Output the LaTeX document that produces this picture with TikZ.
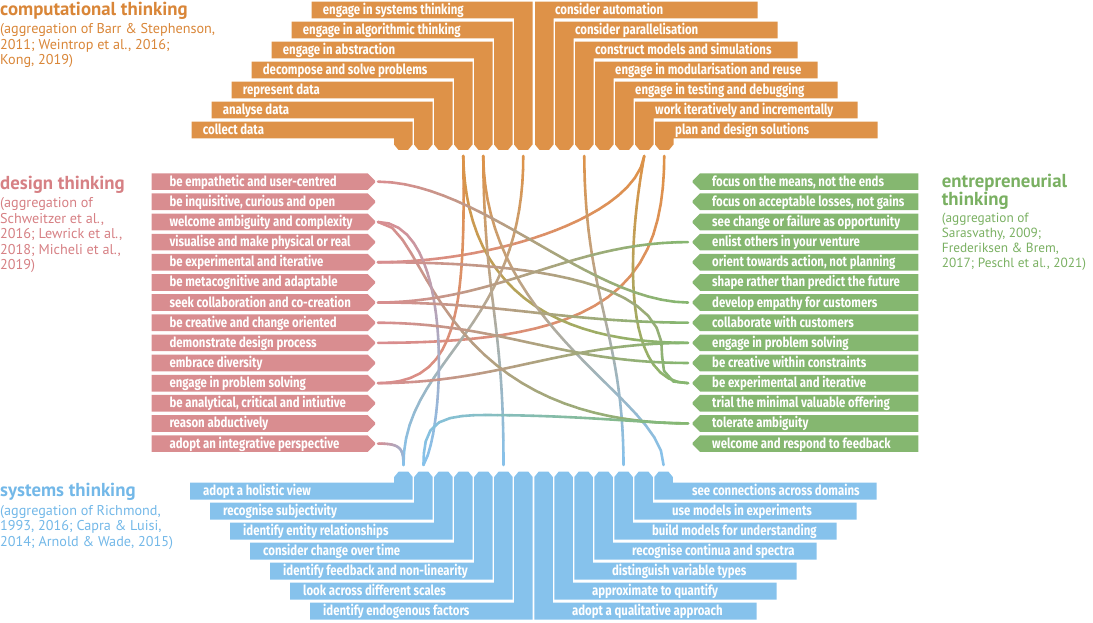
\documentclass[tikz,border=0pt]{standalone}
\usepackage{fontspec}
\usetikzlibrary{decorations.markings}
\newfontfamily\boxfont[FakeStretch=0.815]{Fira Sans}
\newfontfamily\titlefont{PT Sans}
\definecolor{cCT}{RGB}{222,146,72}
\definecolor{cDT}{RGB}{217,141,144}
\definecolor{cET}{RGB}{133,183,112}
\definecolor{cST}{RGB}{134,194,236}
\definecolor{tCT}{RGB}{217,134,56}
\definecolor{tDT}{RGB}{214,128,132}
\definecolor{tET}{RGB}{122,176,98}
\definecolor{tST}{RGB}{115,184,232}
\tikzset{
 boxtext/.style={font=\boxfont\bfseries\fontsize{14}{14}\selectfont, text=white, inner sep=0pt, anchor=base west},
 titletext/.style={font=\titlefont\bfseries\fontsize{18.8}{16.6}\selectfont, inner sep=0pt, anchor=base west},
 subtext/.style={font=\titlefont\fontsize{14.2}{14.2}\selectfont, inner sep=0pt, anchor=base west},
 subtextsmall/.style={font=\titlefont\fontsize{13.3}{13.3}\selectfont, inner sep=0pt, anchor=base west},
 conn/.style={line width=2.6pt, line cap=round},
}
\newcommand\conn[4]{%
 \path[decorate,decoration={markings,mark=between positions 0 and 0.97 step 0.04 with {\coordinate (cq\pgfkeysvalueof{/pgf/decoration/mark info/sequence number});}}] #3;
 \coordinate (cq26) at (#4);
 \foreach \i in {1,...,25}{%
   \pgfmathtruncatemacro\j{\i+1}%
   \pgfmathtruncatemacro\m{round(100*(\i-0.5)/25)}%
   \draw[conn, draw=#2!\m!#1] (cq\i) -- (cq\j);
 }%
}
\begin{document}
\begin{tikzpicture}[x=1pt,y=-1pt]
\useasboundingbox (0,0) rectangle (1093,623);

% ---------- titles
\node[titletext, text=tCT] (ctTitle) at (0,16) {computational thinking};
\node[subtext, text=tCT] (ctS1) at (0,33.3) {(aggregation of Barr \& Stephenson,};
\node[subtext, text=tCT] (ctS2) at (0,49.3) {2011; Weintrop et al., 2016;};
\node[subtext, text=tCT] (ctS3) at (0,65) {Kong, 2019)};

\node[titletext, text=tDT] (dtTitle) at (0,189.3) {design thinking};
\node[subtext, text=tDT] (dtS1) at (0,207.3) {(aggregation of};
\node[subtext, text=tDT] (dtS2) at (0,223) {Schweitzer et al.,};
\node[subtext, text=tDT] (dtS3) at (0,238.5) {2016; Lewrick et al.,};
\node[subtext, text=tDT] (dtS4) at (0,254) {2018; Micheli et al.,};
\node[subtext, text=tDT] (dtS5) at (0,269.5) {2019)};

\node[titletext, text=tET, anchor=north west, align=left] (etTitle) at (941.7,174.3) {entrepreneurial\\thinking};
\node[subtextsmall, text=tET] (etS1) at (941.7,222.3) {(aggregation of};
\node[subtextsmall, text=tET] (etS2) at (941.7,237.7) {Sarasvathy, 2009;};
\node[subtextsmall, text=tET] (etS3) at (941.7,252.3) {Frederiksen \& Brem,};
\node[subtextsmall, text=tET] (etS4) at (941.7,267.7) {2017; Peschl et al., 2021)};

\node[titletext, text=tST] (stTitle) at (0,496.5) {systems thinking};
\node[subtext, text=tST] (stS1) at (0,515.3) {(aggregation of Richmond,};
\node[subtext, text=tST] (stS2) at (0,530.8) {1993, 2016; Capra \& Luisi,};
\node[subtext, text=tST] (stS3) at (0,546.3) {2014; Arnold \& Wade, 2015)};

% ---------- computational thinking, left staircase
\foreach \k/\t in {1/engage in systems thinking,2/engage in algorithmic thinking,3/engage in abstraction,4/decompose and solve problems,5/represent data,6/analyse data,7/collect data}{
  \pgfmathsetmacro\yt{1.7+20*(\k-1)}
  \pgfmathsetmacro\yb{\yt+16.7}
  \pgfmathsetmacro\xl{311.7-20*(\k-1)}
  \pgfmathsetmacro\xr{532.5-20*(\k-1)}
  \pgfmathsetmacro\xc{\xr-18.5}
  \fill[cCT] (\xl,\yt) -- (\xr,\yt) -- (\xr,144.5) -- (\xr-4.5,150) -- (\xc+4.5,150) -- (\xc,144.5) -- (\xc,\yb) -- (\xl,\yb) -- cycle;
  \node[boxtext] (ctLt\k) at (\xl+11,\yt+12.8) {\t};
  \coordinate (ctL\k) at (\xr-9.25,156);
}
% ---------- computational thinking, right staircase
\foreach \k/\t in {1/consider automation,2/consider parallelisation,3/construct models and simulations,4/engage in modularisation and reuse,5/engage in testing and debugging,6/work iteratively and incrementally,7/plan and design solutions}{
  \pgfmathsetmacro\yt{1.7+20*(\k-1)}
  \pgfmathsetmacro\yb{\yt+16.7}
  \pgfmathsetmacro\xc{535+20*(\k-1)}
  \pgfmathsetmacro\xr{\xc+18.5}
  \pgfmathsetmacro\xe{757.7+20*(\k-1)}
  \fill[cCT] (\xc,\yt) -- (\xe,\yt) -- (\xe,\yb) -- (\xr,\yb) -- (\xr,144.5) -- (\xr-4.5,150) -- (\xc+4.5,150) -- (\xc,144.5) -- cycle;
  \node[boxtext] (ctRt\k) at (\xr+1.5,\yt+12.8) {\t};
  \coordinate (ctR\k) at (\xc+9.25,156);
}
% ---------- systems thinking, left staircase
\foreach \k/\t in {1/adopt a holistic view,2/recognise subjectivity,3/identify entity relationships,4/consider change over time,5/identify feedback and non-linearity,6/look across different scales,7/identify endogenous factors}{
  \pgfmathsetmacro\yt{482.7+20*(\k-1)}
  \pgfmathsetmacro\yb{\yt+17}
  \pgfmathsetmacro\xl{190+20*(\k-1)}
  \pgfmathsetmacro\xr{412.7+20*(\k-1)}
  \pgfmathsetmacro\xc{\xr-18.5}
  \fill[cST] (\xl,\yt) -- (\xc,\yt) -- (\xc,477) -- (\xc+4.5,471.5) -- (\xr-4.5,471.5) -- (\xr,477) -- (\xr,\yb) -- (\xl,\yb) -- cycle;
  \node[boxtext] (stLt\k) at (\xl+13,\yt+13) {\t};
  \coordinate (stL\k) at (\xr-9.25,465);
}
% ---------- systems thinking, right staircase
\foreach \k/\t in {1/see connections across domains,2/use models in experiments,3/build models for understanding,4/recognise continua and spectra,5/distinguish variable types,6/approximate to quantify,7/adopt a qualitative approach}{
  \pgfmathsetmacro\yt{482.7+20*(\k-1)}
  \pgfmathsetmacro\yb{\yt+17}
  \pgfmathsetmacro\xc{654.3-20*(\k-1)}
  \pgfmathsetmacro\xr{\xc+18.5}
  \pgfmathsetmacro\xe{876.7-20*(\k-1)}
  \fill[cST] (\xc,\yb) -- (\xc,477) -- (\xc+4.5,471.5) -- (\xr-4.5,471.5) -- (\xr,477) -- (\xr,\yt) -- (\xe,\yt) -- (\xe,\yb) -- cycle;
  \node[boxtext] (stRt\k) at (\xr+19,\yt+13) {\t};
  \coordinate (stR\k) at (\xc+9.25,465);
}
% ---------- design thinking boxes
\foreach \i/\t in {0/be empathetic and user-centred,1/{be inquisitive, curious and open},2/welcome ambiguity and complexity,3/visualise and make physical or real,4/be experimental and iterative,5/be metacognitive and adaptable,6/seek collaboration and co-creation,7/be creative and change oriented,8/demonstrate design process,9/embrace diversity,10/engage in problem solving,11/{be analytical, critical and intiutive},12/reason abductively,13/adopt an integrative perspective}{
  \pgfmathsetmacro\yt{173.3+20.15*\i}
  \pgfmathsetmacro\yb{\yt+16.7}
  \fill[cDT] (151.7,\yt) -- (367.7,\yt) -- (375,\yt+7.3) -- (375,\yb-7.3) -- (367.7,\yb) -- (151.7,\yb) -- cycle;
  \node[boxtext] (dtBox\i) at (169.3,\yt+12.8) {\t};
  \coordinate (dt\i) at (378,\yt+8.35);
}
% ---------- entrepreneurial thinking boxes
\foreach \i/\t in {0/{focus on the means, not the ends},1/{focus on acceptable losses, not gains},2/see change or failure as opportunity,3/enlist others in your venture,4/{orient towards action, not planning},5/shape rather than predict the future,6/develop empathy for customers,7/collaborate with customers,8/engage in problem solving,9/be creative within constraints,10/be experimental and iterative,11/trial the minimal valuable offering,12/tolerate ambiguity,13/welcome and respond to feedback}{
  \pgfmathsetmacro\yt{173.3+20.15*\i}
  \pgfmathsetmacro\yb{\yt+16.7}
  \fill[cET] (918.3,\yt) -- (918.3,\yb) -- (700,\yb) -- (692.7,\yb-7.3) -- (692.7,\yt+7.3) -- (700,\yt) -- cycle;
  \node[boxtext] (etBox\i) at (712,\yt+12.8) {\t};
  \coordinate (et\i) at (688,\yt+8.35);
}

% ---------- connectors
\conn{cCT}{cDT}{(ctR6) .. controls (635,215) and (500,262) .. (dt4)}{dt4}
\conn{cCT}{cDT}{(ctR7) .. controls (664,290) and (600,343) .. (dt8)}{dt8}
\conn{cCT}{cDT}{(ctL4) .. controls (466,320) and (455,383) .. (dt10)}{dt10}
\conn{cCT}{cET}{(ctR6) .. controls (625,260) and (625,383) .. (et10)}{et10}
\conn{cCT}{cET}{(ctL4) .. controls (465,260) and (520,343) .. (et8)}{et8}
\conn{cCT}{cST}{(ctL1) .. controls (524,330) and (403,360) .. (stL1)}{stL1}
\conn{cCT}{cST}{(ctL3) .. controls (484,300) and (504,320) .. (stL6)}{stL6}
\conn{cCT}{cST}{(ctL3) .. controls (485,330) and (664,400) .. (stR1)}{stR1}
\conn{cCT}{cST}{(ctR3) .. controls (585,300) and (623,330) .. (stR3)}{stR3}
\conn{cDT}{cET}{(dt0) .. controls (480,182) and (590,302) .. (et6)}{et6}
\conn{cDT}{cET}{(dt2) .. controls (428,222) and (430,423) .. (et12)}{et12}
\conn{cDT}{cST}{(dt2) .. controls (455,222) and (445,430) .. (stL2)}{stL2}
\conn{cDT}{cET}{(dt4) .. controls (560,262) and (662,290) .. (662,350) .. controls (662,380) and (668,383) .. (et10)}{et10}
\conn{cDT}{cET}{(dt6) .. controls (500,302) and (570,242) .. (et3)}{et3}
\conn{cDT}{cET}{(dt6) .. controls (500,302) and (560,322) .. (et7)}{et7}
\conn{cDT}{cET}{(dt7) .. controls (500,323) and (560,363) .. (et9)}{et9}
\conn{cDT}{cET}{(dt10) .. controls (500,383) and (560,343) .. (et8)}{et8}
\conn{cDT}{cST}{(dt13) .. controls (400,443.5) and (403.5,448) .. (stL1)}{stL1}
\conn{cST}{cET}{(stL2) .. controls (423.5,425) and (435,416) .. (480,415) .. controls (580,415) and (640,423) .. (et12)}{et12}
\end{tikzpicture}
\end{document}
